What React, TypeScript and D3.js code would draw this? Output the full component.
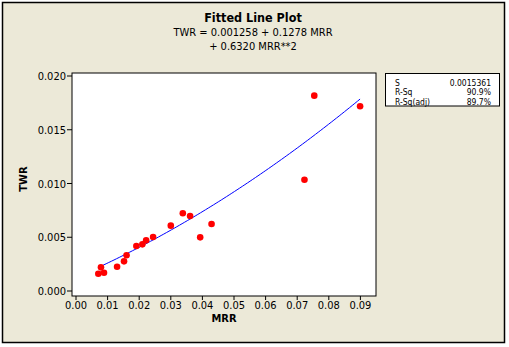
import React from "react";
import * as d3 from "d3";

const mrr = [0.00706, 0.0079, 0.00886, 0.0130, 0.0152, 0.0160, 0.0191, 0.0210, 0.0222, 0.0244, 0.0300, 0.0338, 0.0361, 0.0393, 0.0429, 0.0723, 0.0754, 0.0899];
const twr = [0.00161, 0.00220, 0.00170, 0.00226, 0.00276, 0.00332, 0.00419, 0.00434, 0.00471, 0.00502, 0.00608, 0.00723, 0.00698, 0.00499, 0.00623, 0.01035, 0.01817, 0.01718];
const coef = [0.001258, 0.1278, 0.632];
const xTicks = [0, 0.01, 0.02, 0.03, 0.04, 0.05, 0.06, 0.07, 0.08, 0.09];
const yTicks = [0, 0.005, 0.01, 0.015, 0.02];
const statLabels = ["S", "R-Sq", "R-Sq(adj)"];
const statValues = ["0.0015361", "90.9%", "89.7%"];

const W = 509, H = 347;
const FONT = "'DejaVu Sans Condensed', 'DejaVu Sans', sans-serif";
const frame = { l: 72, t: 73, r: 376, b: 296 };

export default function App() {
  const x = d3.scaleLinear().domain([0, 0.09]).range([76, 360.4]);
  const y = d3.scaleLinear().domain([0, 0.02]).range([291, 76]);
  const xmin = d3.min(mrr)!, xmax = d3.max(mrr)!;
  const fitPts = d3.range(0, 101).map(i => {
    const v = xmin + (xmax - xmin) * i / 100;
    return [v, coef[0] + coef[1] * v + coef[2] * v * v] as [number, number];
  });
  const line = d3.line<[number, number]>().x(d => x(d[0])).y(d => y(d[1]));
  return (
    <svg width={W} height={H} style={{ position: "absolute", left: 0, top: 0 }} fontFamily={FONT}>
      <rect x={0} y={0} width={W} height={H} fill="#ffffff" />
      <rect x={2.5} y={2.5} width={502} height={340} fill="#ECE9D8" stroke="#000" strokeWidth={1.5} />
      <text x={253} y={22} textAnchor="middle" fontSize={12.5} fontWeight="bold">Fitted Line Plot</text>
      <text x={253} y={36} textAnchor="middle" fontSize={11}>TWR =  0.001258 + 0.1278 MRR</text>
      <text x={253} y={49.5} textAnchor="middle" fontSize={11}>+ 0.6320 MRR**2</text>
      <rect x={frame.l} y={frame.t} width={frame.r - frame.l} height={frame.b - frame.t} fill="#fff" stroke="#000" strokeWidth={1} />
      {yTicks.map(t => (
        <g key={"y" + t}>
          <line x1={frame.l - 5} x2={frame.l} y1={y(t)} y2={y(t)} stroke="#000" />
          <text x={frame.l - 6} y={y(t) + 4} textAnchor="end" fontSize={11}>{d3.format(".3f")(t)}</text>
        </g>
      ))}
      {xTicks.map(t => (
        <g key={"x" + t}>
          <line x1={x(t)} x2={x(t)} y1={frame.b} y2={frame.b + 4} stroke="#000" />
          <text x={x(t)} y={308.5} textAnchor="middle" fontSize={11}>{d3.format(".2f")(t)}</text>
        </g>
      ))}
      <text x={224} y={322} textAnchor="middle" fontSize={11} fontWeight="bold">MRR</text>
      <text transform="translate(27,179) rotate(-90)" textAnchor="middle" fontSize={11} fontWeight="bold">TWR</text>
      <path d={line(fitPts)!} fill="none" stroke="#0000FF" strokeWidth={1} />
      {mrr.map((v, i) => (
        <circle key={i} cx={x(v)} cy={y(twr[i])} r={3.3} fill="#FF0000" />
      ))}
      <rect x={385.5} y={73.5} width={114} height={32.5} fill="#fff" stroke="#000" strokeWidth={1} />
      {statLabels.map((s, i) => (
        <g key={s}>
          <text x={395} y={85.5 + i * 9.7} fontSize={8.5}>{s}</text>
          <text x={491} y={85.5 + i * 9.7} fontSize={8.5} textAnchor="end">{statValues[i]}</text>
        </g>
      ))}
    </svg>
  );
}
